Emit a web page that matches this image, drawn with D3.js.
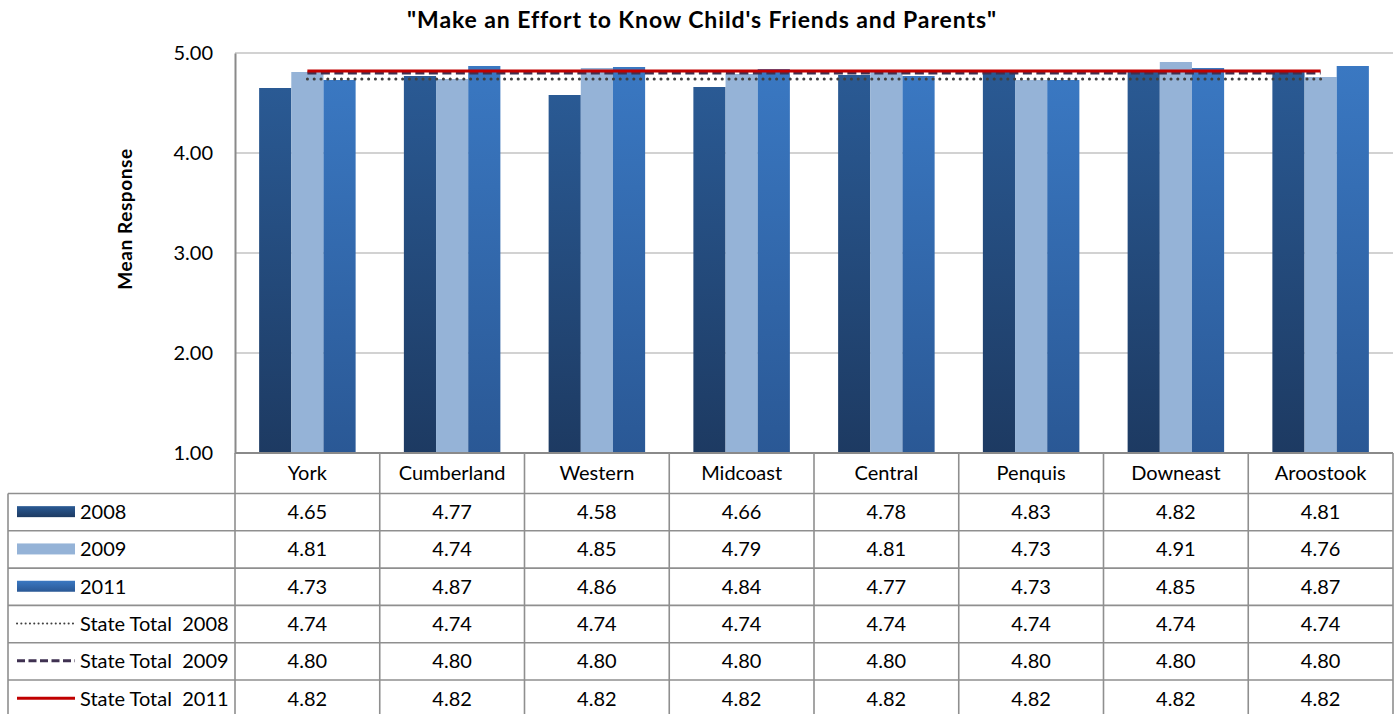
<!DOCTYPE html>
<html>
<head>
<meta charset="utf-8">
<script src="https://cdn.jsdelivr.net/npm/d3@7"></script>
<style>
  html, body { margin: 0; padding: 0; background: #ffffff; }
  svg { display: block; }
  text { font-family: Lato, "Open Sans", sans-serif; fill: #000; }
</style>
</head>
<body>
<svg id="chart" width="1395" height="714"></svg>
<script>
// Regions and survey years
const categories = ["York", "Cumberland", "Western", "Midcoast", "Central", "Penquis", "Downeast", "Aroostook"];
const barSeries = ["2008", "2009", "2011"];
const values2008 = [4.65, 4.77, 4.58, 4.66, 4.78, 4.83, 4.82, 4.81];
const values2009 = [4.81, 4.74, 4.85, 4.79, 4.81, 4.73, 4.91, 4.76];
const values2011 = [4.73, 4.87, 4.86, 4.84, 4.77, 4.73, 4.85, 4.87];
const stateTotal2008 = [4.74, 4.74, 4.74, 4.74, 4.74, 4.74, 4.74, 4.74];
const stateTotal2009 = [4.80, 4.80, 4.80, 4.80, 4.80, 4.80, 4.80, 4.80];
const stateTotal2011 = [4.82, 4.82, 4.82, 4.82, 4.82, 4.82, 4.82, 4.82];
const yTicks = [1, 2, 3, 4, 5];

const titleText = "\"Make an Effort to Know Child's Friends and Parents\"";
const yLabel = "Mean Response";

const barValues = [values2008, values2009, values2011];
const lineSeries = [
  { name: "State Total  2008", values: stateTotal2008, kind: "dot" },
  { name: "State Total  2009", values: stateTotal2009, kind: "dash" },
  { name: "State Total  2011", values: stateTotal2011, kind: "solid" }
];

const svg = d3.select("#chart");
const defs = svg.append("defs");

// Gradients for the two darker bar series
function vGrad(id, top, bottom) {
  const g = defs.append("linearGradient").attr("id", id)
    .attr("x1", 0).attr("y1", 0).attr("x2", 0).attr("y2", 1);
  g.append("stop").attr("offset", "0%").attr("stop-color", top);
  g.append("stop").attr("offset", "100%").attr("stop-color", bottom);
}
vGrad("g2008", "#2a5a94", "#1d3a62");
vGrad("g2011", "#3a78c2", "#2a5895");
const barFill = { "2008": "url(#g2008)", "2009": "#95b3d7", "2011": "url(#g2011)" };
const swatchFill = barFill;

const plot = { left: 235, right: 1393, top: 53, bottom: 453 };
const tableFont = "20px";

const x = d3.scaleBand().domain(categories).range([plot.left, plot.right]).padding(0);
const y = d3.scaleLinear().domain([1, 5]).range([plot.bottom, plot.top]);

// Excel-style clustering: gap of 150% of a bar width between groups
const gapRatio = 1.5;
const barW = x.bandwidth() / (barSeries.length + gapRatio);
const xs = d3.scaleBand().domain(barSeries)
  .range([barW * gapRatio / 2, barW * gapRatio / 2 + barW * barSeries.length]).padding(0);

// Title
svg.append("text")
  .attr("x", 702).attr("y", 28)
  .attr("text-anchor", "middle")
  .style("font-weight", "bold").style("font-size", "23px").style("letter-spacing", "0.9px")
  .text(titleText);

// Y axis label
svg.append("text")
  .attr("transform", "translate(132,219) rotate(-90)")
  .attr("text-anchor", "middle")
  .style("font-weight", "bold").style("font-size", "19px").style("letter-spacing", "0.6px")
  .text(yLabel);

// Gridlines
svg.append("g").selectAll("line").data(yTicks.filter(d => d > 1)).join("line")
  .attr("x1", plot.left).attr("x2", plot.right)
  .attr("y1", d => y(d)).attr("y2", d => y(d))
  .attr("stroke", "#c3c3c3").attr("stroke-width", 1.5);

// Y axis via d3 axis
const yAxis = svg.append("g")
  .attr("transform", `translate(${plot.left},0)`)
  .call(d3.axisLeft(y).tickValues(yTicks).tickFormat(d3.format(".2f")).tickSize(0).tickPadding(22));
yAxis.select(".domain").attr("stroke", "#8a8a8a").attr("stroke-width", 2);
yAxis.selectAll("text").style("font-family", "Lato, sans-serif").style("font-size", tableFont).attr("fill", "#000");

// Bars
const groups = svg.append("g").selectAll("g").data(categories).join("g")
  .attr("transform", c => `translate(${x(c)},0)`);
groups.selectAll("rect")
  .data((c, i) => barSeries.map((s, k) => ({ s, v: barValues[k][i] })))
  .join("rect")
  .attr("x", d => xs(d.s))
  .attr("width", xs.bandwidth())
  .attr("y", d => y(d.v))
  .attr("height", d => y(1) - y(d.v))
  .attr("fill", d => barFill[d.s]);

// State total lines, from first to last category centre
const lineGen = d3.line().x((d, i) => x(categories[i]) + x.bandwidth() / 2).y(d => y(d));
const lineStyle = {
  dot: { stroke: "#404040", width: 3, dash: "0.1,6.7", cap: "round" },
  dash: { stroke: "#3f3151", width: 3, dash: "9,4.5", cap: "butt" },
  solid: { stroke: "#c00000", width: 3, dash: null, cap: "butt" }
};
svg.append("g").selectAll("path").data(lineSeries).join("path")
  .attr("d", d => lineGen(d.values))
  .attr("fill", "none")
  .attr("stroke", d => lineStyle[d.kind].stroke)
  .attr("stroke-width", d => lineStyle[d.kind].width)
  .attr("stroke-dasharray", d => lineStyle[d.kind].dash)
  .attr("stroke-linecap", d => lineStyle[d.kind].cap);

// Plot area baseline
svg.append("line").attr("x1", plot.left).attr("x2", plot.right)
  .attr("y1", plot.bottom).attr("y2", plot.bottom)
  .attr("stroke", "#8a8a8a").attr("stroke-width", 2);

// Data table
const table = { left: 8, headerBottom: 493.5, rowH: 37.3 };
const rows = [
  ...barSeries.map((s, k) => ({ name: s, values: barValues[k], key: "bar", s })),
  ...lineSeries.map(l => ({ name: l.name, values: l.values, key: "line", kind: l.kind }))
];
const tg = svg.append("g");
const borderColor = "#8f8f8f";

// Category header
tg.selectAll("text.cat").data(categories).join("text")
  .attr("class", "cat")
  .attr("x", c => x(c) + x.bandwidth() / 2)
  .attr("y", (plot.bottom + table.headerBottom) / 2 + 7)
  .attr("text-anchor", "middle").style("font-size", tableFont)
  .text(c => c);

// Horizontal rules
const tableBottom = table.headerBottom + rows.length * table.rowH;
rows.forEach((r, i) => {
  tg.append("line")
    .attr("x1", table.left).attr("x2", plot.right)
    .attr("y1", table.headerBottom + i * table.rowH).attr("y2", table.headerBottom + i * table.rowH)
    .attr("stroke", borderColor).attr("stroke-width", 1.6);
});
// Vertical rules
const colEdges = categories.map(c => x(c)).concat([plot.right]);
colEdges.forEach(cx => {
  tg.append("line").attr("x1", cx).attr("x2", cx)
    .attr("y1", plot.bottom).attr("y2", tableBottom + 5)
    .attr("stroke", borderColor).attr("stroke-width", 1.6);
});
tg.append("line").attr("x1", table.left).attr("x2", table.left)
  .attr("y1", table.headerBottom).attr("y2", tableBottom + 5)
  .attr("stroke", borderColor).attr("stroke-width", 1.6);

// Row legend keys and values
rows.forEach((r, i) => {
  const cy = table.headerBottom + i * table.rowH + table.rowH / 2;
  if (r.key === "bar") {
    tg.append("rect").attr("x", 17).attr("y", cy - 6).attr("width", 58).attr("height", 11)
      .attr("fill", swatchFill[r.s]);
  } else {
    const st = lineStyle[r.kind];
    tg.append("line").attr("x1", 17).attr("x2", 75).attr("y1", cy - 0.5).attr("y2", cy - 0.5)
      .attr("stroke", st.stroke)
      .attr("stroke-width", r.kind === "dot" ? 2 : st.width)
      .attr("stroke-dasharray", r.kind === "dot" ? "0.1,4.2" : (r.kind === "dash" ? "8,3.5" : null))
      .attr("stroke-linecap", st.cap);
  }
  tg.append("text").attr("x", 80).attr("y", cy + 7)
    .style("font-size", tableFont).style("white-space", "pre")
    .attr("xml:space", "preserve")
    .text(r.name);
  tg.selectAll(null).data(r.values).join("text")
    .attr("x", (v, j) => x(categories[j]) + x.bandwidth() / 2)
    .attr("y", cy + 7)
    .attr("text-anchor", "middle").style("font-size", tableFont)
    .text(v => d3.format(".2f")(v));
});
</script>
</body>
</html>
